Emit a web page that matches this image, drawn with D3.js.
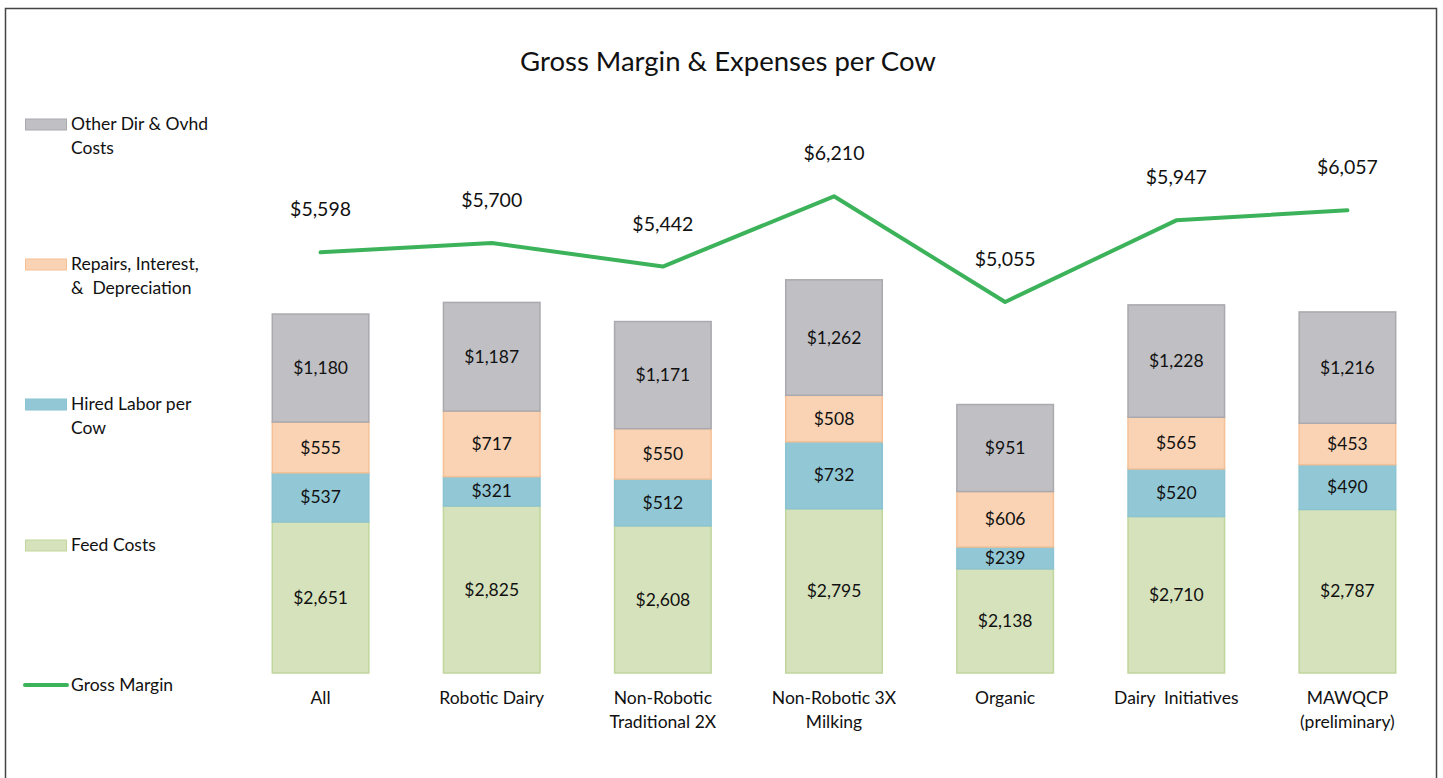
<!DOCTYPE html>
<html lang="en">
<head>
<meta charset="UTF-8">
<title>Gross Margin & Expenses per Cow</title>
<script src="https://d3js.org/d3.v7.min.js"></script>
<style>
  body { margin: 0; background: #fff; font-family: Lato, "Open Sans", sans-serif; }
  text { white-space: pre; }
</style>
</head>
<body>
<svg id="chart" width="1443" height="778"></svg>
<script>
    // data
    const categories = ["All", "Robotic Dairy", "Non-Robotic\nTraditional 2X", "Non-Robotic 3X\nMilking", "Organic", "Dairy  Initiatives", "MAWQCP\n(preliminary)"];
    const feedCosts = [2651, 2825, 2608, 2795, 2138, 2710, 2787];
    const hiredLabor = [537, 321, 512, 732, 239, 520, 490];
    const repairs = [555, 717, 550, 508, 606, 565, 453];
    const otherCosts = [1180, 1187, 1171, 1262, 951, 1228, 1216];
    const grossMargin = [5598, 5700, 5442, 6210, 5055, 5947, 6057];

    const seriesNames = ["Feed Costs", "Hired Labor per\nCow", "Repairs, Interest,\n&  Depreciation", "Other Dir & Ovhd\nCosts"];
    const fills = ["#d6e2bc", "#92c8d6", "#f9d3b4", "#bfbfc4"];
    const strokes = ["#c1d69c", "#8cc3d2", "#f5c096", "#a9a9ae"];
    const lineColor = "#3cb35a";

    const svg = d3.select("#chart");

    // frame
    svg.append("rect")
        .attr("x", 5.5).attr("y", 8.5)
        .attr("width", 1431).attr("height", 800)
        .attr("fill", "none").attr("stroke", "#444").attr("stroke-width", 1.5);

    svg.append("text")
        .attr("x", 728).attr("y", 71)
        .attr("text-anchor", "middle")
        .attr("font-size", 27.5)
        .attr("fill", "#111")
        .text("Gross Margin & Expenses per Cow");

    const x = d3.scaleBand()
        .domain(categories)
        .range([235, 1433])
        .paddingInner(0.43)
        .paddingOuter(0.215);

    // value axis starts at 1000 (hidden)
    const y = d3.scaleLinear()
        .domain([1000, 7000])
        .range([673, 124]);

    const rows = categories.map((c, i) => ({
        cat: c, s0: feedCosts[i], s1: hiredLabor[i], s2: repairs[i], s3: otherCosts[i]
    }));
    const stack = d3.stack().keys(["s0", "s1", "s2", "s3"]);
    const layers = stack(rows);

    const g = svg.append("g");
    layers.forEach((layer, li) => {
        const lg = g.append("g");
        lg.selectAll("rect")
            .data(layer)
            .join("rect")
            .attr("x", d => x(d.data.cat) + 0.5)
            .attr("width", x.bandwidth() - 1)
            .attr("y", d => y(d[1]))
            .attr("height", d => y(Math.max(d[0], 1000)) - y(d[1]))
            .attr("fill", fills[li])
            .attr("stroke", strokes[li])
            .attr("stroke-width", 1.5);
        lg.selectAll("text")
            .data(layer)
            .join("text")
            .attr("x", d => x(d.data.cat) + x.bandwidth() / 2)
            .attr("y", d => (y(d[1]) + y(Math.max(d[0], 1000))) / 2)
            .attr("dy", "0.35em")
            .attr("text-anchor", "middle")
            .attr("font-size", 17.5)
            .attr("fill", "#111")
            .text(d => d3.format("$,")(d[1] - d[0]));
    });

    // gross margin line
    const line = d3.line()
        .x((d, i) => x(categories[i]) + x.bandwidth() / 2)
        .y(d => y(d));
    svg.append("path")
        .datum(grossMargin)
        .attr("d", line)
        .attr("fill", "none")
        .attr("stroke", lineColor)
        .attr("stroke-width", 4)
        .attr("stroke-linejoin", "round")
        .attr("stroke-linecap", "round");

    svg.append("g").selectAll("text")
        .data(grossMargin)
        .join("text")
        .attr("x", (d, i) => x(categories[i]) + x.bandwidth() / 2)
        .attr("y", d => y(d) - 36)
        .attr("text-anchor", "middle")
        .attr("font-size", 19.5)
        .attr("fill", "#111")
        .text(d => d3.format("$,")(d));

    // category labels
    const xLab = svg.append("g").selectAll("text")
        .data(categories)
        .join("text")
        .attr("y", 704)
        .attr("text-anchor", "middle")
        .attr("font-size", 17.5)
        .attr("fill", "#111");
    xLab.each(function (d) {
        d.split("\n").forEach((t, k) => {
            d3.select(this).append("tspan")
                .attr("x", x(d) + x.bandwidth() / 2)
                .attr("dy", k === 0 ? 0 : 24)
                .text(t);
        });
    });

    // legend
    const legendItems = [
        { name: seriesNames[3], fill: fills[3], stroke: strokes[3], y: 124 },
        { name: seriesNames[2], fill: fills[2], stroke: strokes[2], y: 264 },
        { name: seriesNames[1], fill: fills[1], stroke: strokes[1], y: 404 },
        { name: seriesNames[0], fill: fills[0], stroke: strokes[0], y: 545 },
        { name: "Gross Margin", line: true, y: 685 }
    ];
    const leg = svg.append("g");
    legendItems.forEach(item => {
        if (item.line) {
            leg.append("line")
                .attr("x1", 25).attr("x2", 67)
                .attr("y1", item.y).attr("y2", item.y)
                .attr("stroke", lineColor).attr("stroke-width", 4)
                .attr("stroke-linecap", "round");
        } else {
            leg.append("rect")
                .attr("x", 25.5).attr("y", item.y - 5)
                .attr("width", 41).attr("height", 11)
                .attr("fill", item.fill).attr("stroke", item.stroke);
        }
        const t = leg.append("text")
            .attr("y", item.y + 6)
            .attr("font-size", 17.5)
            .attr("fill", "#111");
        item.name.split("\n").forEach((s, k) => {
            t.append("tspan").attr("x", 71).attr("dy", k === 0 ? 0 : 24).text(s);
        });
    });
</script>
</body>
</html>
